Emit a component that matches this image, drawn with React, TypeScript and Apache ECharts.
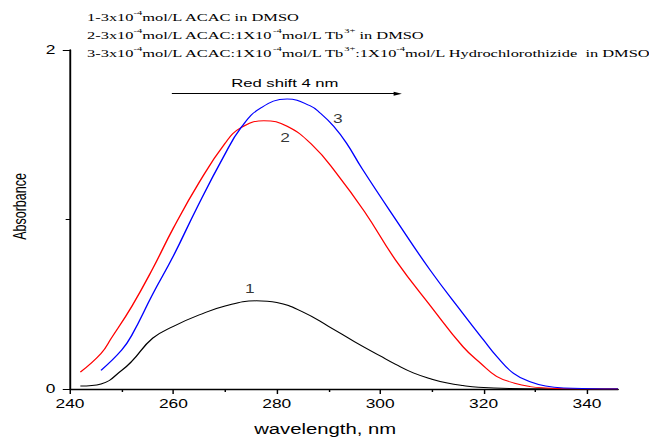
import React, { useEffect, useRef } from 'react';
import * as echarts from 'echarts';

// ---- data ----
const wavelength1 = [242, 246, 250, 252, 256, 260, 265, 270, 276, 280, 285, 290, 295, 300, 303, 306.4, 310, 313, 316, 319, 325, 335, 346];
const absorbance1 = [0.018, 0.03, 0.11, 0.165, 0.3, 0.37, 0.437, 0.49, 0.52, 0.51, 0.455, 0.37, 0.28, 0.195, 0.145, 0.095, 0.058, 0.035, 0.02, 0.01, 0.003, 0.001, 0];

const wavelength2 = [242, 246, 248, 252, 256, 260, 265, 270, 273, 277.5, 282, 287, 291.5, 297, 303, 310, 316, 319.5, 322.5, 326, 329, 332, 336, 346];
const absorbance2 = [0.1, 0.21, 0.3, 0.49, 0.71, 0.95, 1.22, 1.45, 1.54, 1.583, 1.55, 1.435, 1.275, 1.045, 0.76, 0.48, 0.25, 0.15, 0.075, 0.034, 0.014, 0.006, 0.002, 0];

const wavelength3 = [246, 250, 252, 256, 260, 264.5, 269.7, 273.2, 277, 282, 286.4, 288.5, 291, 293.5, 296.5, 303, 309.7, 316, 320, 322.6, 325.8, 329, 332, 335.5, 341, 346];
const absorbance3 = [0.11, 0.23, 0.32, 0.56, 0.785, 1.066, 1.37, 1.547, 1.66, 1.711, 1.672, 1.625, 1.55, 1.45, 1.3, 1.0, 0.7, 0.446, 0.289, 0.19, 0.092, 0.043, 0.018, 0.006, 0.002, 0];

const xMajorTicks = [240, 260, 280, 300, 320, 340];
const xMinorTicks = [250, 270, 290, 310, 330];

const curveLabels = ['1', '2', '3'];
const curveLabelX = [274.8, 281.6, 291.8];
const curveLabelY = [0.594, 1.485, 1.595];

const shiftText = 'Red shift 4 nm';
const shiftFrom = [259.7, 1.742];
const shiftTo = [303.4, 1.742];

const legendLines = [
  '1-3x10{s|-4}mol/L ACAC in DMSO',
  '2-3x10{s|-4}mol/L ACAC:1X10{s|-4}mol/L Tb{s|3+} in DMSO',
  '3-3x10{s|-4}mol/L ACAC:1X10{s|-4}mol/L Tb{s|3+}:1X10{s|-4}mol/L Hydrochlorothizide  in DMSO',
];

// ---- layout (reference image is horizontally stretched) ----
const RW = 448;
const H = 438;
const SX = 649 / RW;
const SANS = 'Liberation Sans';
const SERIF = 'Liberation Serif';

const pairs = (xs: number[], ys: number[]) => xs.map((x, i) => [x, ys[i]]);

export default function App() {
  const ref = useRef<HTMLDivElement>(null);

  useEffect(() => {
    const chart = echarts.init(ref.current!, null, { renderer: 'svg' });
    const lineSeries = (name: string, data: number[][], color: string) => ({
      name,
      type: 'line',
      data,
      showSymbol: false,
      smooth: 0.45,
      silent: true,
      lineStyle: { color, width: 1 },
    });

    const legendY = [17, 35, 53];

    chart.setOption({
      animation: false,
      grid: {
        left: 70 / SX,
        right: RW - 618 / SX,
        top: 50,
        bottom: H - 389,
        outerBoundsMode: 'none',
        containLabel: false,
      },
      xAxis: [
        {
          type: 'value',
          min: 240,
          max: 346,
          position: 'bottom',
          axisLine: { show: true, lineStyle: { color: '#000', width: 1.3 } },
          axisTick: { show: true, customValues: xMajorTicks, length: 5, lineStyle: { color: '#000', width: 1 } },
          axisLabel: { customValues: xMajorTicks, color: '#000', fontSize: 12, fontFamily: SANS, margin: 9 },
          splitLine: { show: false },
          name: 'wavelength, nm',
          nameLocation: 'middle',
          nameGap: 33,
          nameTextStyle: { color: '#000', fontSize: 14, fontFamily: SANS, padding: [0, 26, 0, 0] },
        },
        {
          type: 'value',
          min: 240,
          max: 346,
          position: 'bottom',
          axisLine: { show: false },
          axisTick: { show: true, customValues: xMinorTicks, length: 3, lineStyle: { color: '#000', width: 1 } },
          axisLabel: { show: false },
          splitLine: { show: false },
        },
      ],
      yAxis: {
        type: 'value',
        min: 0,
        max: 2,
        interval: 2,
        axisLine: { show: true, lineStyle: { color: '#000', width: 1.3 } },
        axisTick: { show: true, length: 5, lineStyle: { color: '#000', width: 1 } },
        minorTick: { show: true, splitNumber: 2, length: 3, lineStyle: { color: '#000', width: 1 } },
        axisLabel: { color: '#000', fontSize: 12, fontFamily: SANS, margin: 10 },
        splitLine: { show: false },
        minorSplitLine: { show: false },
        name: 'Absorbance',
        nameLocation: 'middle',
        nameGap: 28,
        nameTextStyle: { color: '#000', fontSize: 12.5, fontFamily: SANS, padding: [0, 0, 0, 26] },
      },
      series: [
        {
          ...lineSeries('1', pairs(wavelength1, absorbance1), '#000000'),
          markLine: {
            silent: true,
            symbol: ['none', 'triangle'],
            symbolSize: [4, 5.7],
            lineStyle: { color: '#000', width: 1, type: 'solid' },
            label: {
              show: true,
              position: 'insideMiddleTop',
              formatter: shiftText,
              color: '#000',
              fontSize: 11.5,
              fontFamily: SANS,
              distance: 5,
            },
            data: [[{ coord: shiftFrom }, { coord: shiftTo }]],
          },
        },
        lineSeries('2', pairs(wavelength2, absorbance2), '#ff0000'),
        lineSeries('3', pairs(wavelength3, absorbance3), '#0000ff'),
        {
          type: 'scatter',
          silent: true,
          symbolSize: 0,
          data: curveLabels.map((t, i) => [curveLabelX[i], curveLabelY[i], t]),
          label: {
            show: true,
            position: 'inside',
            formatter: (p: any) => p.value[2],
            color: '#000',
            fontSize: 12,
            fontFamily: SANS,
          },
        },
      ],
      graphic: legendLines.map((t, i) => ({
        type: 'text',
        x: 87 / SX,
        y: legendY[i],
        scaleX: 1.03,
        silent: true,
        style: {
          text: t,
          fill: '#000',
          fontSize: 11,
          fontFamily: SERIF,
          lineHeight: 15,
          verticalAlign: 'middle',
          rich: {
            s: { fontSize: 7, fontFamily: SERIF, lineHeight: 7, verticalAlign: 'top', fill: '#000' },
          },
        },
      })),
    });
    return () => chart.dispose();
  }, []);

  return (
    <div
      ref={ref}
      style={{
        position: 'absolute',
        left: 0,
        top: 0,
        width: RW,
        height: H,
        transform: `scaleX(${SX})`,
        transformOrigin: '0 0',
      }}
    />
  );
}
